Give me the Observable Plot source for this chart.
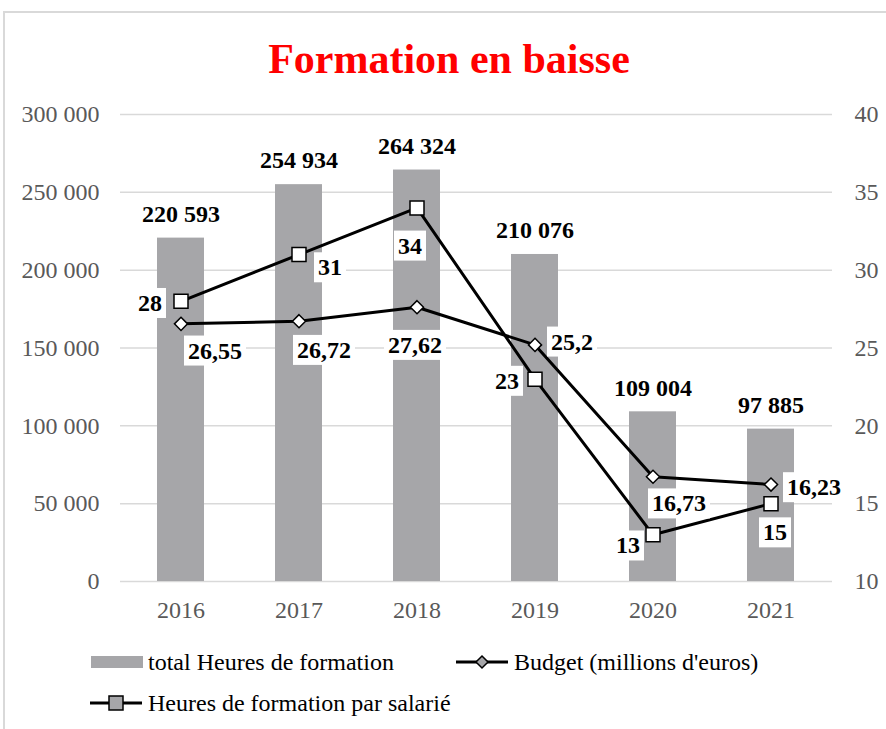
<!DOCTYPE html>
<html>
<head>
<meta charset="utf-8">
<script src="https://cdn.jsdelivr.net/npm/d3@7"></script>
<script src="https://cdn.jsdelivr.net/npm/@observablehq/plot@0.6"></script>
<style>
  html, body { margin: 0; padding: 0; background: white; }
  #page { position: relative; width: 886px; height: 729px; overflow: hidden; font-family: "Liberation Serif", "Times New Roman", serif; }
  #frame { position: absolute; left: 3px; top: 11px; right: -10px; bottom: -10px; border-left: 2px solid #d9d9d9; border-top: 2px solid #d9d9d9; }
  #title { position: absolute; left: 449px; top: 38px; transform: translateX(-50%); white-space: nowrap; font-size: 42px; line-height: 1; font-weight: bold; color: #ff0000; }
  #chart { position: absolute; left: 0; top: 88px; }
  .leg { position: absolute; display: flex; align-items: center; height: 28px; font-size: 24px; color: #000; white-space: nowrap; }
  .leg svg { margin-right: 4px; }
</style>
</head>
<body>
<div id="page">
  <div id="frame"></div>
  <div id="title">Formation en baisse</div>
  <div id="chart"></div>
  <div class="leg" style="left:90px; top:648px;">
    <svg width="54" height="14"><rect x="1" y="1" width="52" height="12" fill="#a6a6a9"></rect></svg>total Heures de formation
  </div>
  <div class="leg" style="left:456px; top:648px;">
    <svg width="54" height="16"><line x1="0" y1="8" x2="52" y2="8" stroke="black" stroke-width="3"></line><path d="M26,2 L32,8 L26,14 L20,8 Z" fill="#a6a6a9" stroke="black" stroke-width="1.5"></path></svg>Budget (millions d'euros)
  </div>
  <div class="leg" style="left:90px; top:689px;">
    <svg width="54" height="18"><line x1="0" y1="9" x2="52" y2="9" stroke="black" stroke-width="3"></line><rect x="19" y="2" width="14" height="14" fill="#a6a6a9" stroke="black" stroke-width="1.5"></rect></svg>Heures de formation par salarié
  </div>
</div>
<script>
// ---- data ----
const years = ["2016", "2017", "2018", "2019", "2020", "2021"];
const totalHeures = [220593, 254934, 264324, 210076, 109004, 97885];
const budget = [26.55, 26.72, 27.62, 25.2, 16.73, 16.23];
const heuresParSalarie = [28, 31, 34, 23, 13, 15];
const leftTicks = [0, 50000, 100000, 150000, 200000, 250000, 300000];
const rightTicks = [10, 15, 20, 25, 30, 35, 40];

// ---- helpers ----
const leftMax = 300000;
const rMin = 10, rMax = 40;
const toLeft = v => (v - rMin) / (rMax - rMin) * leftMax;
const fromLeft = v => Math.round(rMin + v / leftMax * (rMax - rMin));
const fmtInt = v => d3.format(",")(v).replace(/,/g, " ");
const fmtDec = v => String(v).replace(".", ",");

const rows = years.map((y, i) => ({year: y, total: totalHeures[i], budget: budget[i], hps: heuresParSalarie[i]}));

// label placement (style): [dx, dy] per point
const hpsOffsets = [[-31, 2], [31, 13], [-7, 38], [-28, 2], [-25, 11], [4, 29]];
const budgetOffsets = [[34, 27], [25, 29], [-2, 38], [37, -3], [26, 27], [43, 3]];

const labelFont = 24;
const tickFont = 24;
const boxedLabels = [];
rows.forEach((d, i) => {
  boxedLabels.push(Plot.text([d], {
    x: "year", y: r => toLeft(r.hps), text: r => fmtDec(r.hps),
    dx: hpsOffsets[i][0], dy: hpsOffsets[i][1],
    fontSize: labelFont, fontWeight: "bold", fill: "black"
  }));
  boxedLabels.push(Plot.text([d], {
    x: "year", y: r => toLeft(r.budget), text: r => fmtDec(r.budget),
    dx: budgetOffsets[i][0], dy: budgetOffsets[i][1],
    fontSize: labelFont, fontWeight: "bold", fill: "black"
  }));
});

const chart = Plot.plot({
  width: 886,
  height: 533,
  marginTop: 26,
  marginBottom: 40,
  marginLeft: 120,
  marginRight: 54,
  style: {fontFamily: "'Liberation Serif', 'Times New Roman', serif", background: "transparent", overflow: "visible"},
  x: {domain: years, paddingInner: 0.6, paddingOuter: 0.3},
  y: {domain: [0, leftMax]},
  marks: [
    Plot.gridY(leftTicks, {stroke: "#d9d9d9", strokeOpacity: 1, strokeWidth: 1.5}),
    Plot.axisY(leftTicks, {anchor: "left", tickSize: 0, tickPadding: 21, tickFormat: fmtInt, fontSize: tickFont, color: "#595959", label: null}),
    Plot.axisY(rightTicks.map(toLeft), {anchor: "right", tickSize: 0, tickPadding: 22, tickFormat: fromLeft, fontSize: tickFont, color: "#595959", label: null}),
    Plot.axisX({tickSize: 0, tickPadding: 19, fontSize: tickFont, color: "#595959", label: null}),
    Plot.barY(rows, {x: "year", y: "total", fill: "#a6a6a9"}),
    Plot.text(rows, {x: "year", y: "total", text: d => fmtInt(d.total), dy: -24, fontSize: labelFont, fontWeight: "bold", fill: "black"}),
    Plot.line(rows, {x: "year", y: d => toLeft(d.hps), stroke: "black", strokeWidth: 3}),
    Plot.line(rows, {x: "year", y: d => toLeft(d.budget), stroke: "black", strokeWidth: 3}),
    Plot.dot(rows, {x: "year", y: d => toLeft(d.hps), symbol: d3.symbolSquare, r: 7.9, fill: "white", stroke: "black", strokeWidth: 1.5}),
    Plot.dot(rows, {x: "year", y: d => toLeft(d.budget), symbol: d3.symbolDiamond2, r: 5.9, fill: "white", stroke: "black", strokeWidth: 1.5}),
    ...boxedLabels
  ]
});

document.getElementById("chart").appendChild(chart);

// white boxes behind the line labels (bold labels without a space)
Array.from(chart.querySelectorAll("text")).forEach(t => {
  const w = getComputedStyle(t).fontWeight;
  const bold = w === "bold" || Number(w) >= 600;
  if (!bold || t.textContent.indexOf(" ") >= 0 || t.textContent.indexOf("\u00a0") >= 0) return;
  const b = t.getBBox();
  const r = document.createElementNS("http://www.w3.org/2000/svg", "rect");
  r.setAttribute("x", b.x - 4);
  r.setAttribute("y", b.y - 2);
  r.setAttribute("width", b.width + 8);
  r.setAttribute("height", b.height + 4);
  r.setAttribute("fill", "white");
  r.setAttribute("stroke", "none");
  const tr = t.getAttribute("transform");
  if (tr) r.setAttribute("transform", tr);
  t.parentNode.insertBefore(r, t);
});
</script>
</body>
</html>
